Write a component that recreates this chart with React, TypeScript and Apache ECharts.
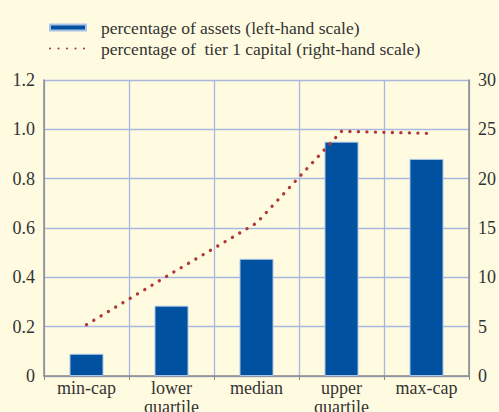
import React, { useEffect, useRef } from "react";
import * as echarts from "echarts";

const categories = ["min-cap", "lower\nquartile", "median", "upper\nquartile", "max-cap"];
const assetsPct = [0.09, 0.285, 0.475, 0.95, 0.88];
const tier1Pct = [5.2, 10.4, 15.5, 24.8, 24.6];
const leftTicks = { min: 0, max: 1.2, interval: 0.2 };
const rightTicks = { min: 0, max: 30, interval: 5 };

const FONT = "Liberation Serif";
const TXT = "#333";
const lbl = { fontFamily: FONT, fontSize: 18, color: TXT };

export default function App() {
  const ref = useRef<HTMLDivElement>(null);
  useEffect(() => {
    if (!ref.current) return;
    const chart = echarts.init(ref.current, undefined, { renderer: "svg" });
    chart.setOption({
      animation: false,
      backgroundColor: "#fffbe0",
      textStyle: { fontFamily: FONT, fontSize: 18 },
      legend: {
        orient: "vertical",
        left: 44,
        top: 12,
        itemWidth: 36,
        itemHeight: 14,
        itemGap: 0,
        textStyle: { ...lbl, fontSize: 17.5, lineHeight: 21, padding: [0, 0, 0, 10] },
        data: [
          { name: "percentage of assets (left-hand scale)", icon: "path://M0,0h36v6h-36z" },
          { name: "percentage of  tier 1 capital (right-hand scale)" },
        ],
      },
      grid: { left: 44, right: 30, top: 80, bottom: 36, containLabel: false, outerBoundsMode: "none" },
      xAxis: {
        type: "category",
        data: categories,
        axisLine: { lineStyle: { color: "#8a8a8a", width: 1.5 } },
        axisTick: { show: true, length: 4, lineStyle: { color: "#8a8a8a" } },
        axisLabel: { ...lbl, margin: 2, lineHeight: 19, interval: 0 },
        splitLine: { show: true, lineStyle: { color: "#a9b6e0", width: 1.3 } },
      },
      yAxis: [
        {
          type: "value",
          ...leftTicks,
          axisLine: { show: true, lineStyle: { color: "#8a8a8a", width: 1.5 } },
          axisTick: { show: false },
          axisLabel: {
            ...lbl,
            margin: 9,
            formatter: (v: number) => (v === 0 ? "0" : v.toFixed(1)),
          },
          splitLine: { show: true, lineStyle: { color: "#a9b6e0", width: 1.3 } },
        },
        {
          type: "value",
          ...rightTicks,
          position: "right",
          axisLine: { show: true, lineStyle: { color: "#8a8a8a", width: 1.5 } },
          axisTick: { show: false },
          axisLabel: { ...lbl, margin: 9 },
          splitLine: { show: false },
        },
      ],
      series: [
        {
          name: "percentage of assets (left-hand scale)",
          type: "bar",
          data: assetsPct,
          yAxisIndex: 0,
          barWidth: 34,
          itemStyle: { color: "#0051a0", borderColor: "#a9c3e6", borderWidth: 1 },
        },
        {
          name: "percentage of  tier 1 capital (right-hand scale)",
          type: "line",
          data: tier1Pct,
          yAxisIndex: 1,
          symbol: "none",
          showSymbol: false,
          lineStyle: { color: "#b0373a", width: 3.3, type: [0.1, 8.4], cap: "round" },
          itemStyle: { color: "#b0373a", opacity: 0 },
        },
      ],
    });
    return () => chart.dispose();
  }, []);
  return <div ref={ref} style={{ width: 499, height: 412, position: "absolute", left: 0, top: 0 }} />;
}
